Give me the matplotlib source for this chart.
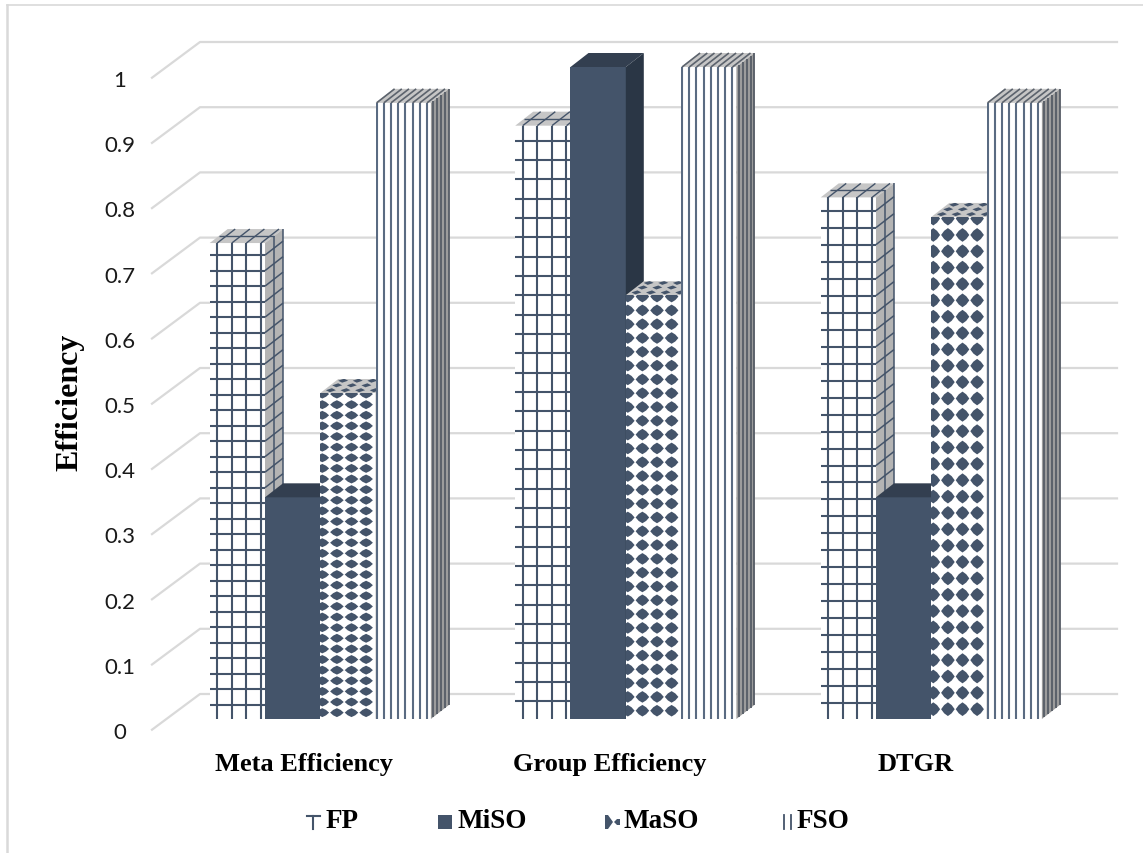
import matplotlib
matplotlib.use('Agg')
import matplotlib.pyplot as plt
import numpy as np
from matplotlib.collections import LineCollection, PolyCollection
from matplotlib.patches import Polygon
from matplotlib.transforms import Affine2D

groups = ['Meta Efficiency', 'Group Efficiency', 'DTGR']
series = ['FP', 'MiSO', 'MaSO', 'FSO']
fp_vals = [0.73, 0.91, 0.80]
miso_vals = [0.34, 1.0, 0.34]
maso_vals = [0.50, 0.65, 0.77]
fso_vals = [0.945, 1.0, 0.945]
ticks = [0, 0.1, 0.2, 0.3, 0.4, 0.5, 0.6, 0.7, 0.8, 0.9, 1]
tick_labels = ['0', '0.1', '0.2', '0.3', '0.4', '0.5', '0.6', '0.7', '0.8', '0.9', '1']

W, H = 1143, 854
NAVY = '#44546a'
GRID = '#d9d9d9'

# scale of the plot: one group = 305.5 px, one efficiency unit = 652 px
SX, SY = 305.5, 652.0
X0, Y0 = 320.3, 720.0
BAR_W = 55.3 / SX
DX, DY = 18 / SX, 14 / SY     # depth of the bars
N_ROWS = 30.7                 # pattern rows per bar, they stretch with the bar height

fig = plt.figure(figsize=(W / 100, H / 100), dpi=100)
ax = fig.add_axes([0, 0, 1, 1])
ax.set_xlim(-X0 / SX, (W - X0) / SX)
ax.set_ylim((Y0 - H) / SY, Y0 / SY)
ax.axis('off')

# pixel coordinates measured from the top left, for the frame and legend
pix = Affine2D().scale(1, -1).translate(0, H)

# chart frame, only the top and left edges are there
ax.plot([7, W], [6, 6], color=GRID, lw=1.2, transform=pix, zorder=1)
ax.plot([7, 7], [6, H], color=GRID, lw=1.8, transform=pix, zorder=1)

# floor-to-wall gridlines
for t in ticks:
    y_front = t - 10.7 / SY
    y_back = y_front + 35.7 / SY
    xs = [(152 - X0) / SX, (200 - X0) / SX, (1117 - X0) / SX]
    ax.plot(xs, [y_front, y_back, y_back], color=GRID, lw=1.6, zorder=2,
            solid_joinstyle='round')


def lines(segs, color=NAVY, lw=1.2, z=3, clip=None):
    lc = LineCollection(segs, colors=color, linewidths=lw, zorder=z)
    ax.add_collection(lc)
    if clip is not None:
        lc.set_clip_path(clip)
    return lc


def box(x, h, front, side, top, z):
    bar = ax.bar(x, h, width=BAR_W, align='edge', color=front, linewidth=0, zorder=z)[0]
    x1 = x + BAR_W
    top_p = Polygon([(x, h), (x + DX, h + DY), (x1 + DX, h + DY), (x1, h)],
                    closed=True, fc=top, ec='none', zorder=z)
    side_p = Polygon([(x1, 0), (x1 + DX, DY), (x1 + DX, h + DY), (x1, h)],
                     closed=True, fc=side, ec='none', zorder=z)
    ax.add_patch(top_p)
    ax.add_patch(side_p)
    return bar, top_p, side_p


def draw_fp(x, h, z):
    bar, top_p, side_p = box(x, h, 'white', '#b4b4b4', '#c6c6c6', z)
    x1 = x + BAR_W
    step_x = 14.6 / SX
    cols = [x + (7.5 / SX) + i * step_x for i in range(4)]
    s = h / N_ROWS
    rows = [(k + 0.92) * s for k in range(int(N_ROWS))]
    segs = [[(c, 0), (c, h)] for c in cols] + [[(x, r), (x1, r)] for r in rows]
    lines(segs, lw=1.5, z=z + 0.1, clip=bar)
    # side face: rows carry on as diagonals
    side = [[(x1, r), (x1 + DX, r + DY)] for r in rows]
    side += [[(x1 + DX * f, DY * f), (x1 + DX * f, h + DY * f)] for f in (0.5, 1.0)]
    lines(side, lw=1.1, z=z + 0.1)
    # top face
    top = [[(c, h), (c + DX, h + DY)] for c in cols]
    top += [[(x + DX * 0.5, h + DY * 0.5), (x1 + DX * 0.5, h + DY * 0.5)]]
    lines(top, lw=1.0, z=z + 0.1)


def draw_miso(x, h, z):
    box(x, h, NAVY, '#2a3645', '#333f50', z)


def draw_maso(x, h, z):
    bar, top_p, side_p = box(x, h, 'white', '#b4b4b4', '#c6c6c6', z)
    step_x = 14.6 / SX
    w = 6.8 / SX
    s = h / N_ROWS
    t = 0.42 * s
    polys = []
    for k in range(int(N_ROWS) + 1):
        cy = (k + 0.6) * s
        for i in range(4):
            cx = x + (2 / SX) + i * step_x
            # diamonds with slightly bulged sides
            polys.append([(cx - w, cy), (cx - 0.55 * w, cy + 0.6 * t), (cx, cy + t),
                          (cx + 0.55 * w, cy + 0.6 * t), (cx + w, cy),
                          (cx + 0.55 * w, cy - 0.6 * t), (cx, cy - t),
                          (cx - 0.55 * w, cy - 0.6 * t)])
    pc = PolyCollection(polys, facecolors=NAVY, edgecolors='none', zorder=z + 0.1)
    ax.add_collection(pc)
    pc.set_clip_path(bar)
    # small skewed diamonds on the top face
    tops = []
    for f in (0.2, 0.55, 0.88):
        for i in range(4):
            cx = x + (7 / SX) + i * step_x + DX * f
            cy = h + DY * f
            tops.append([(cx - 5 / SX, cy), (cx + 1 / SX, cy + 2 / SY),
                         (cx + 5 / SX, cy), (cx - 1 / SX, cy - 2 / SY)])
    pt = PolyCollection(tops, facecolors=NAVY, edgecolors='none', zorder=z + 0.1)
    ax.add_collection(pt)
    pt.set_clip_path(top_p)


def draw_fso(x, h, z):
    bar, top_p, side_p = box(x, h, 'white', '#9c9c9c', '#c6c6c6', z)
    x1 = x + BAR_W
    cols = [x + (1 + 7.2 * i) / SX for i in range(8)]
    lines([[(c, 0), (c, h)] for c in cols], color='#5a6b82', lw=1.5, z=z + 0.1, clip=bar)
    side = [[(x1 + DX * f, DY * f), (x1 + DX * f, h + DY * f)]
            for f in (0.14, 0.36, 0.58, 0.8, 0.98)]
    lines(side, color='#565c66', lw=1.3, z=z + 0.1)
    lines([[(c, h), (c + DX, h + DY)] for c in cols], color='#5c636d', lw=1.2, z=z + 0.1)


drawers = [draw_fp, draw_miso, draw_maso, draw_fso]
values = [fp_vals, miso_vals, maso_vals, fso_vals]

z = 5
for g in range(len(groups)):
    for s in range(len(series)):
        x = g + (s - 2) * BAR_W
        drawers[s](x, values[s][g], z)
        z += 1

# value axis labels
for t, lab in zip(ticks, tick_labels):
    ax.text((120 - X0) / SX, t - 13 / SY, lab, family='Lato', fontsize=16, color='#1a1a1a',
            ha='center', va='center', zorder=50)

serif = {'family': 'Liberation Serif', 'weight': 'bold', 'color': 'black'}

for g, name in enumerate(groups):
    ax.text(g - 16 / SX, -45 / SY, name, fontsize=19, ha='center', va='center', zorder=50, **serif)

ax.text((70 - X0) / SX, (Y0 - 402) / SY, 'Efficiency', fontsize=23, rotation=90,
        ha='center', va='center', zorder=50, **serif)

# legend keys and labels
key_x = [307, 438, 605, 783]
text_x = [326, 458, 624, 797]
for i, name in enumerate(series):
    ax.text(text_x[i], 822, name, fontsize=19.5, ha='left', va='center', transform=pix,
            zorder=50, **serif)
kx = key_x[0]
ax.plot([kx, kx + 13], [816.5, 816.5], color=NAVY, lw=1.5, transform=pix, zorder=50)
ax.plot([kx + 6, kx + 6], [816.5, 830], color=NAVY, lw=1.5, transform=pix, zorder=50)
kx = key_x[1]
ax.add_patch(plt.Rectangle((kx, 816), 14, 14, fc=NAVY, ec='none', transform=pix, zorder=50))
kx = key_x[2]
ax.add_patch(Polygon([(kx, 816), (kx + 3, 816), (kx + 8, 823), (kx + 3, 830), (kx, 830)], closed=True,
                     fc=NAVY, ec='none', transform=pix, zorder=50))
ax.add_patch(Polygon([(kx + 9, 823), (kx + 12, 820), (kx + 15, 820), (kx + 15, 826), (kx + 12, 826)],
                     closed=True, fc=NAVY, ec='none', transform=pix, zorder=50))
kx = key_x[3]
for off in (1, 8):
    ax.plot([kx + off, kx + off], [816, 830], color=NAVY, lw=1.3, transform=pix, zorder=50)

fig.savefig('out.png', dpi=100, facecolor='white')
